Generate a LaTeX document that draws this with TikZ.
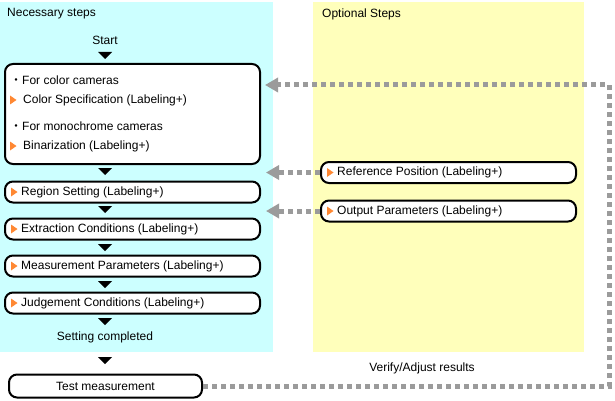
\documentclass[tikz,border=0pt]{standalone}
\usepackage{fontspec}
\setmainfont{Liberation Sans}
\newfontfamily\cjk{Noto Sans CJK JP}
\usetikzlibrary{arrows.meta,calc}
\definecolor{cyanbg}{RGB}{204,255,255}
\definecolor{yellowbg}{RGB}{255,255,187}
\definecolor{dashgray}{RGB}{155,155,155}
\definecolor{tri}{RGB}{255,136,51}
\tikzset{
  txt/.style={inner sep=0pt,font=\fontsize{12}{14}\selectfont},
  stepbox/.style={draw=black,line width=2pt,rounded corners=8pt,fill=white,inner sep=0pt},
  loopline/.style={draw=dashgray,line width=5pt,dash pattern=on 5pt off 4pt,-{Triangle[width=14pt,length=13pt]}},
}
\newcommand\otri[1]{\fill[tri] ($(#1)+(0,-4.5)$) -- ++(6.5,4.5) -- ++(-6.5,4.5) -- cycle;}
\newcommand\btri[1]{\fill[black] (98,#1) -- (112,#1) -- (105,#1+7) -- cycle;}
\begin{document}
\begin{tikzpicture}[x=1pt,y=-1pt]
\useasboundingbox (0,0) rectangle (615,401);
\fill[white] (0,0) rectangle (615,401);
% panels
\fill[cyanbg] (0,2) rectangle (273,352);
\fill[yellowbg] (313,2) rectangle (584,352);
\node[txt,anchor=west] (nec) at (7,14) {Necessary steps};
\node[txt,anchor=west] (opt) at (322,14) {Optional Steps};
\node[txt] (start) at (105,40) {Start};
% big box
\node[stepbox,minimum width=255pt,minimum height=100pt] (big) at (132.5,114) {};
\node[txt,anchor=west] (forc) at (10,80) {{\cjk ・}For color cameras};
\node[txt,anchor=west] (cspec) at (23,100) {Color Specification (Labeling+)};
\node[txt,anchor=west] (form) at (10,126) {{\cjk ・}For monochrome cameras};
\node[txt,anchor=west] (bin) at (23,146) {Binarization (Labeling+)};
\otri{10,100}
\otri{10,146}
% step boxes
\node[stepbox,minimum width=255pt,minimum height=21pt] (region) at (132.5,192) {};
\node[txt,anchor=west] (regiont) at (21,192) {Region Setting (Labeling+)};
\node[stepbox,minimum width=255pt,minimum height=21pt] (extr) at (132.5,229) {};
\node[txt,anchor=west] (extrt) at (21,229) {Extraction Conditions (Labeling+)};
\node[stepbox,minimum width=255pt,minimum height=21pt] (meas) at (132.5,266) {};
\node[txt,anchor=west] (meast) at (21,266) {Measurement Parameters (Labeling+)};
\node[stepbox,minimum width=255pt,minimum height=21pt] (judg) at (132.5,303) {};
\node[txt,anchor=west] (judgt) at (21,303) {Judgement Conditions (Labeling+)};
\otri{11,192}
\otri{11,229}
\otri{11,266}
\otri{11,303}
\node[txt] (done) at (105,337) {Setting completed};
\node[stepbox,minimum width=193pt,minimum height=23pt] (test) at (105.5,386) {};
\node[txt] (testt) at (105.5,386) {Test measurement};
% optional boxes
\node[stepbox,minimum width=255pt,minimum height=21pt] (ref) at (448.5,172.5) {};
\node[txt,anchor=west] (reft) at (337,172.5) {Reference Position (Labeling+)};
\node[stepbox,minimum width=255pt,minimum height=21pt] (out) at (448.5,211) {};
\node[txt,anchor=west] (outt) at (337,211) {Output Parameters (Labeling+)};
\otri{327,172.5}
\otri{327,211}
\node[txt] (verify) at (422,368) {Verify/Adjust results};
% black flow triangles
\btri{52}
\btri{168}
\btri{206}
\btri{244}
\btri{281}
\btri{318}
\btri{357}
% gray dashed connectors
\coordinate (loopTop) at (609,85);
\coordinate (bigIn) at (265,85);
\coordinate (refIn) at (266,172.5);
\coordinate (outIn) at (266,211);
\draw[loopline] (test.east) -| (loopTop) -- (bigIn);
\draw[loopline] (ref.west) -- (refIn);
\draw[loopline] (out.west) -- (outIn);
\end{tikzpicture}
\end{document}
